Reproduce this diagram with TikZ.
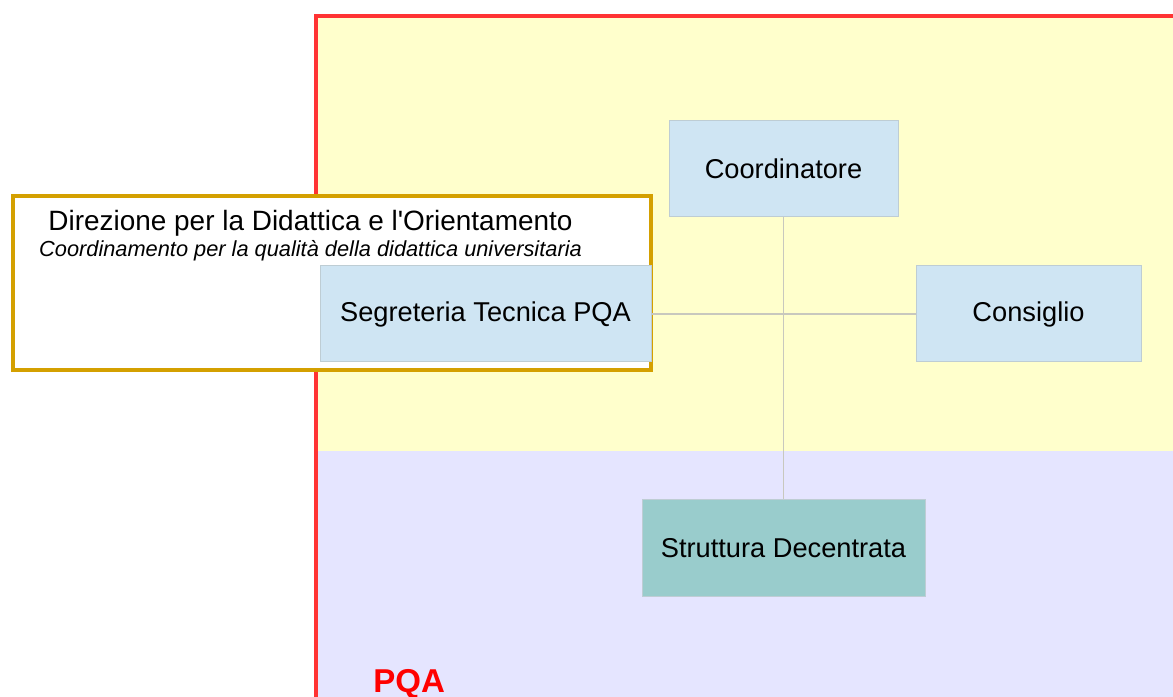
\documentclass[tikz,border=0pt]{standalone}
\usepackage{fontspec}
\setmainfont{Liberation Sans}
\usepackage{xcolor}

\definecolor{pqared}{RGB}{255,51,51}
\definecolor{pqayellow}{RGB}{255,255,204}
\definecolor{pqalilac}{RGB}{229,229,255}
\definecolor{boxblue}{RGB}{207,229,243}
\definecolor{boxteal}{RGB}{153,204,204}
\definecolor{boxedge}{RGB}{190,205,212}
\definecolor{dirorange}{RGB}{212,160,0}
\definecolor{linkgray}{RGB}{200,200,190}

\begin{document}
\begin{tikzpicture}[
    unit/.style={draw=boxedge, line width=0.02cm, fill=boxblue, minimum width=#1,
                 minimum height=1.92cm, inner sep=0pt, font=\fontsize{15.5}{18}\selectfont},
    link/.style={draw=linkgray, line width=0.025cm}
  ]
  \useasboundingbox (0, 0) rectangle (23.46, 13.94);
  \clip (0, 0) rectangle (23.46, 13.94);

  % Background
  \fill[white] (0, 0) rectangle (23.46, 13.94);
  \fill[pqalilac] (6.36, -0.5) rectangle (24, 4.92);
  \fill[pqayellow] (6.36, 4.92) rectangle (24, 13.58);
  \draw[pqared, line width=0.08cm] (24, 13.62) -- (6.32, 13.62) -- (6.32, -0.5);

  % PQA units
  \node[unit=4.58cm] (coord) at (15.67, 10.56) {Coordinatore};
  \node[unit=4.5cm] (consiglio) at (20.57, 7.66) {Consiglio};
  \node[unit=5.66cm, fill=boxteal, minimum height=1.94cm] (struttura) at (15.67, 2.97) {Struttura Decentrata};

  % Links
  \draw[link] (coord.south) -- (struttura.north);

  % Direzione
  \draw[dirorange, line width=0.08cm, fill=white] (0.25, 6.53) rectangle (13.01, 10.01);
  \node[anchor=base, font=\fontsize{15.9}{18}\selectfont] (dir) at (6.21, 9.32)
    {Direzione per la Didattica e l\textquotesingle Orientamento};
  \node[anchor=base, font=\fontsize{12.4}{14}\selectfont\itshape] (coordqual) at (6.21, 8.81)
    {Coordinamento per la qualità della didattica universitaria};
  \node[unit=6.62cm] (segreteria) at (9.71, 7.66) {Segreteria Tecnica PQA};
  \draw[link] (segreteria.east) -- (consiglio.west);

  % Label
  \node[anchor=base west, inner sep=0pt, text=red, font=\fontsize{18.8}{22}\selectfont\bfseries]
    (pqa) at (7.46, 0.08) {PQA};
\end{tikzpicture}
\end{document}
